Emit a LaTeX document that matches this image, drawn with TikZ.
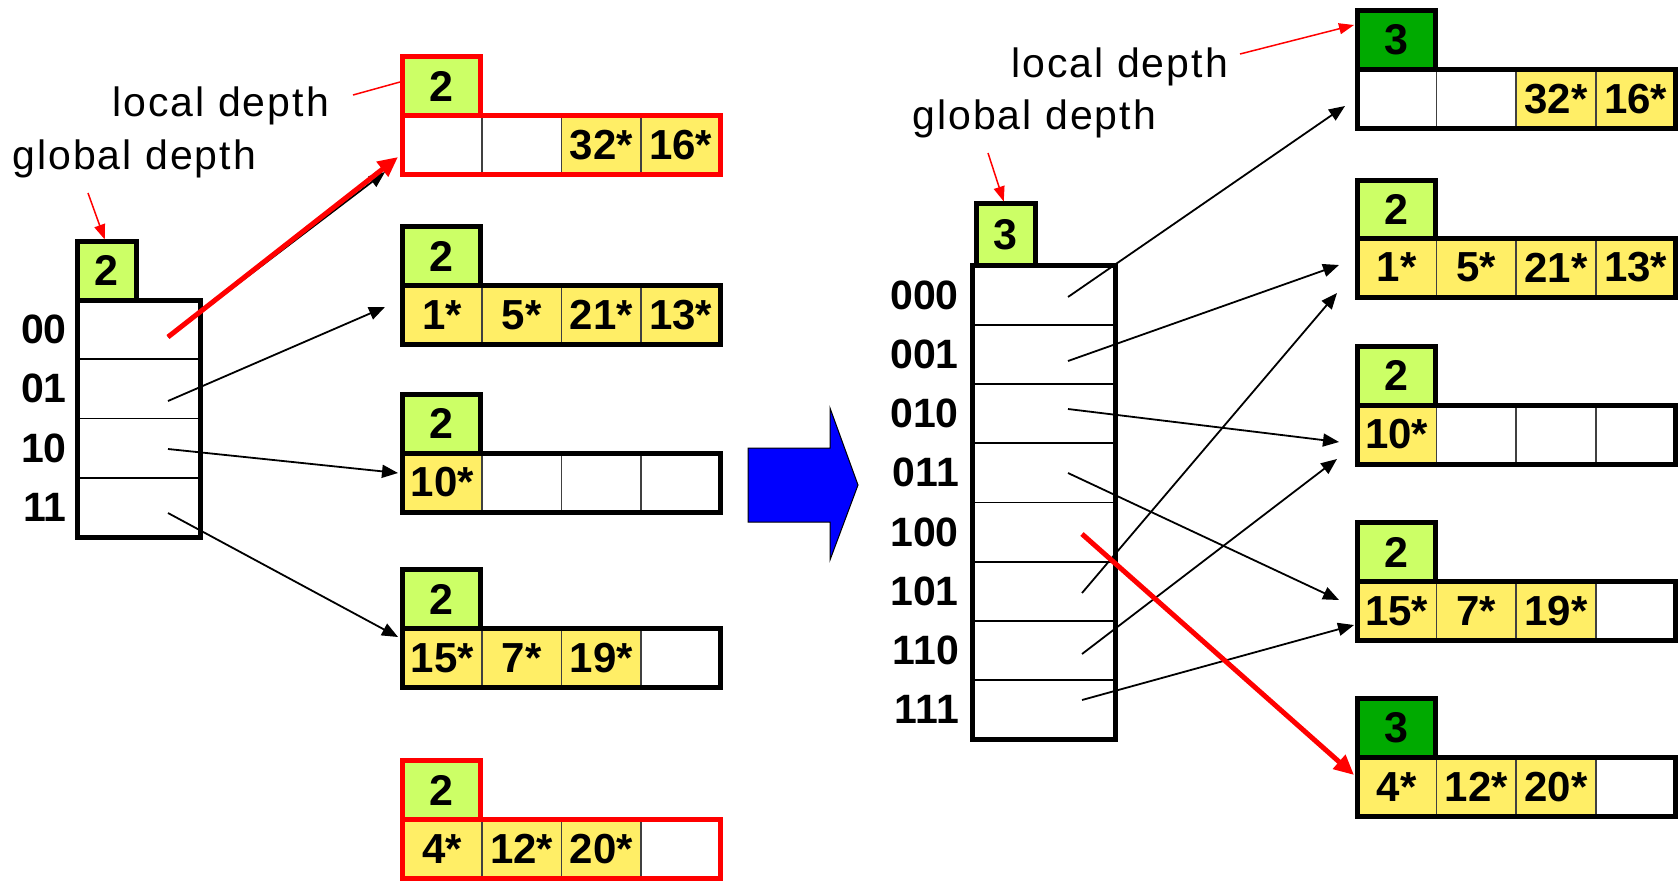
\documentclass[tikz,border=0pt]{standalone}
\usepackage{fontspec}
\setmainfont{Liberation Sans}
\usetikzlibrary{arrows.meta,calc}
\definecolor{lgreen}{RGB}{204,255,102}
\definecolor{dgreen}{RGB}{0,170,0}
\definecolor{cyel}{RGB}{255,238,102}
\definecolor{bblue}{RGB}{0,0,255}
\definecolor{rred}{RGB}{255,0,0}
\def\cw{79.5}
\def\ch{59}
\newcommand\mkcell[4]{%
  \if\relax\detokenize{#4}\relax
    \node[cell,minimum width=\cw pt,minimum height=\ch pt,fill=white] (#1) at (#2,#3) {};%
  \else
    \node[cell,minimum width=\cw pt,minimum height=\ch pt,fill=cyel] (#1) at (#2,#3) {#4};%
  \fi}
% name, x, y(top of header), fill, border, depth
\newcommand\bhead[6]{%
  \node[hdr,minimum width=\cw pt-1.5pt,minimum height=\ch pt,fill=#4,draw=#5] (#1) at (#2,#3) {#6};}
% name, x, y(top of body), border, c1..c4
\newcommand\bbody[8]{%
  \mkcell{#1c1}{#2}{#3}{#5}
  \mkcell{#1c2}{#2+\cw}{#3}{#6}
  \mkcell{#1c3}{#2+2*\cw}{#3}{#7}
  \mkcell{#1c4}{#2+3*\cw}{#3}{#8}
  \node[bodybox,draw=#4,minimum width=4*\cw pt,minimum height=\ch pt] (#1) at (#2,#3) {};}
\begin{document}
\begin{tikzpicture}[x=1pt,y=-1pt,
  lbl/.style={font=\fontsize{41}{44}\selectfont\addfontfeatures{LetterSpace=5},inner sep=0,anchor=base west},
  lab/.style={font=\bfseries\fontsize{41}{44}\selectfont,inner sep=0,anchor=east},
  cell/.style={draw=black!75,line width=1.5pt,inner sep=0,outer sep=0pt,anchor=north west,font=\bfseries\fontsize{42}{44}\selectfont},
  hdr/.style={line width=5pt,inner sep=0,outer sep=0pt,anchor=north west,font=\bfseries\fontsize{43}{44}\selectfont},
  bodybox/.style={line width=5pt,inner sep=0,outer sep=0pt,anchor=north west},
  drow/.style={draw=black,line width=1.8pt,fill=white,inner sep=0,outer sep=0pt,anchor=north west},
  dbox/.style={draw=black,line width=5pt,inner sep=0,outer sep=0pt,anchor=north west},
  ptr/.style={draw=black,line width=1.8pt,-{Triangle[length=16pt,width=13pt]}},
  bigred/.style={draw=rred,line width=5pt,-{Triangle[length=20pt,width=18pt]}},
  thinred/.style={draw=rred,line width=1.5pt},
  thinredarr/.style={thinred,-{Triangle[length=15pt,width=11pt]}}
]
\useasboundingbox (0,0) rectangle (1678,881);
\fill[white] (0,0) rectangle (1678,881);

% ---------------- left directory ----------------
\node[hdr,draw=black,fill=lgreen,minimum width=58.5pt,minimum height=58.5pt] (gdL) at (77.5,241.5) {2};
\foreach \t [count=\k from 0] in {00,01,10,11}{
  \node[drow,minimum width=123pt,minimum height=59.25pt] (L\t) at (77.5,300+\k*59.25) {};
  \node[lab] (Ll\t) at ([xshift=-10.5pt]L\t.west) {\t};
}
\node[dbox,minimum width=123pt,minimum height=237pt] (Ldir) at (77.5,300) {};

% ---------------- left buckets ----------------
\def\cw{79.5}
\bhead{LAh}{402.5}{56.5}{lgreen}{rred}{2}
\bbody{LA}{402.5}{115.5}{rred}{}{}{32*}{16*}
\bhead{LBh}{402.5}{226.5}{lgreen}{black}{2}
\bbody{LB}{402.5}{285.5}{black}{1*}{5*}{21*}{13*}
\bhead{LCh}{402.5}{394}{lgreen}{black}{2}
\bbody{LC}{402.5}{453}{black}{10*}{}{}{}
\bhead{LDh}{402.5}{569.5}{lgreen}{black}{2}
\bbody{LD}{402.5}{628.5}{black}{15*}{7*}{19*}{}
\bhead{LEh}{402.5}{760.5}{lgreen}{rred}{2}
\bbody{LE}{402.5}{819.5}{rred}{4*}{12*}{20*}{}

% ---------------- right directory ----------------
\node[hdr,draw=black,fill=lgreen,minimum width=59.5pt,minimum height=62pt] (gdR) at (976,203.5) {3};
\foreach \t [count=\k from 0] in {000,001,010,011,100,101,110,111}{
  \node[drow,minimum width=143pt,minimum height=59.25pt] (R\t) at (972.5,265.5+\k*59.25) {};
  \node[lab] (Rl\t) at ([xshift=-13.5pt]R\t.west) {\t};
}
\node[dbox,minimum width=143pt,minimum height=474pt] (Rdir) at (972.5,265.5) {};

% ---------------- right buckets ----------------
\def\cw{79.6}
\bhead{RAh}{1357}{10.5}{dgreen}{black}{3}
\bbody{RA}{1357}{69.5}{black}{}{}{32*}{16*}
\bhead{RBh}{1357}{180}{lgreen}{black}{2}
\bbody{RB}{1357}{238}{black}{1*}{5*}{21*}{13*}
\bhead{RCh}{1357}{346}{lgreen}{black}{2}
\bbody{RC}{1357}{405}{black}{10*}{}{}{}
\bhead{RDh}{1357}{522.5}{lgreen}{black}{2}
\bbody{RD}{1357}{581.5}{black}{15*}{7*}{19*}{}
\bhead{REh}{1357}{698.5}{dgreen}{black}{3}
\bbody{RE}{1357}{757.5}{black}{4*}{12*}{20*}{}

% ---------------- transition arrow ----------------
\filldraw[fill=bblue,draw=black,line width=1pt]
  (748,448) -- (830,448) -- (830,408) -- (858,485) -- (830,560) -- (830,522) -- (748,522) -- cycle;

% ---------------- pointer coordinates ----------------
\coordinate (sL00) at (168,337);
\coordinate (sL01) at (168,401);
\coordinate (sL10) at (168,449);
\coordinate (sL11) at (168,513);
\coordinate (eLA1) at (385,172);
\coordinate (eLA2) at (398,157);
\coordinate (eLB) at (385,307);
\coordinate (eLC) at (398,473);
\coordinate (eLD) at (398,637);

\coordinate (sR000) at (1068,297);
\coordinate (sR001) at (1068,361);
\coordinate (sR010) at (1068,409);
\coordinate (sR011) at (1068,473);
\coordinate (sR100) at (1082,534);
\coordinate (sR101) at (1082,593);
\coordinate (sR110) at (1082,654);
\coordinate (sR111) at (1082,700);
\coordinate (eRA) at (1345,106);
\coordinate (eRB1) at (1339,265);
\coordinate (eRB2) at (1337,293);
\coordinate (eRC1) at (1339,442);
\coordinate (eRC2) at (1337,459);
\coordinate (eRD1) at (1339,600);
\coordinate (eRD2) at (1354,625);
\coordinate (eRE) at (1354,775);

% black pointers
\draw[ptr] (sL00) -- (eLA1);
\draw[ptr] (sL01) -- (eLB);
\draw[ptr] (sL10) -- (eLC);
\draw[ptr] (sL11) -- (eLD);
\draw[ptr] (sR000) -- (eRA);
\draw[ptr] (sR001) -- (eRB1);
\draw[ptr] (sR101) -- (eRB2);
\draw[ptr] (sR010) -- (eRC1);
\draw[ptr] (sR110) -- (eRC2);
\draw[ptr] (sR011) -- (eRD1);
\draw[ptr] (sR111) -- (eRD2);

% red pointers
\draw[bigred] (sL00) -- (eLA2);
\draw[bigred] (sR100) -- (eRE);

% ---------------- annotations ----------------
\node[lbl] (ldL) at (112,116) {local depth};
\node[lbl] (gdtL) at (12,169) {global depth};
\node[lbl] (ldR) at (1011,77) {local depth};
\node[lbl] (gdtR) at (912,129) {global depth};

\coordinate (ldLs) at (353,95);
\coordinate (ldLe) at (400,82);
\draw[thinred] (ldLs) -- (ldLe);
\coordinate (gdLs) at (88,193);
\draw[thinredarr] (gdLs) -- ([xshift=-2pt,yshift=2pt]gdL.north);
\coordinate (ldRs) at (1240,54);
\coordinate (ldRe) at (1354,25);
\draw[thinredarr] (ldRs) -- (ldRe);
\coordinate (gdRs) at (988,153);
\draw[thinredarr] (gdRs) -- ([xshift=-2pt,yshift=2pt]gdR.north);
\end{tikzpicture}
\end{document}
